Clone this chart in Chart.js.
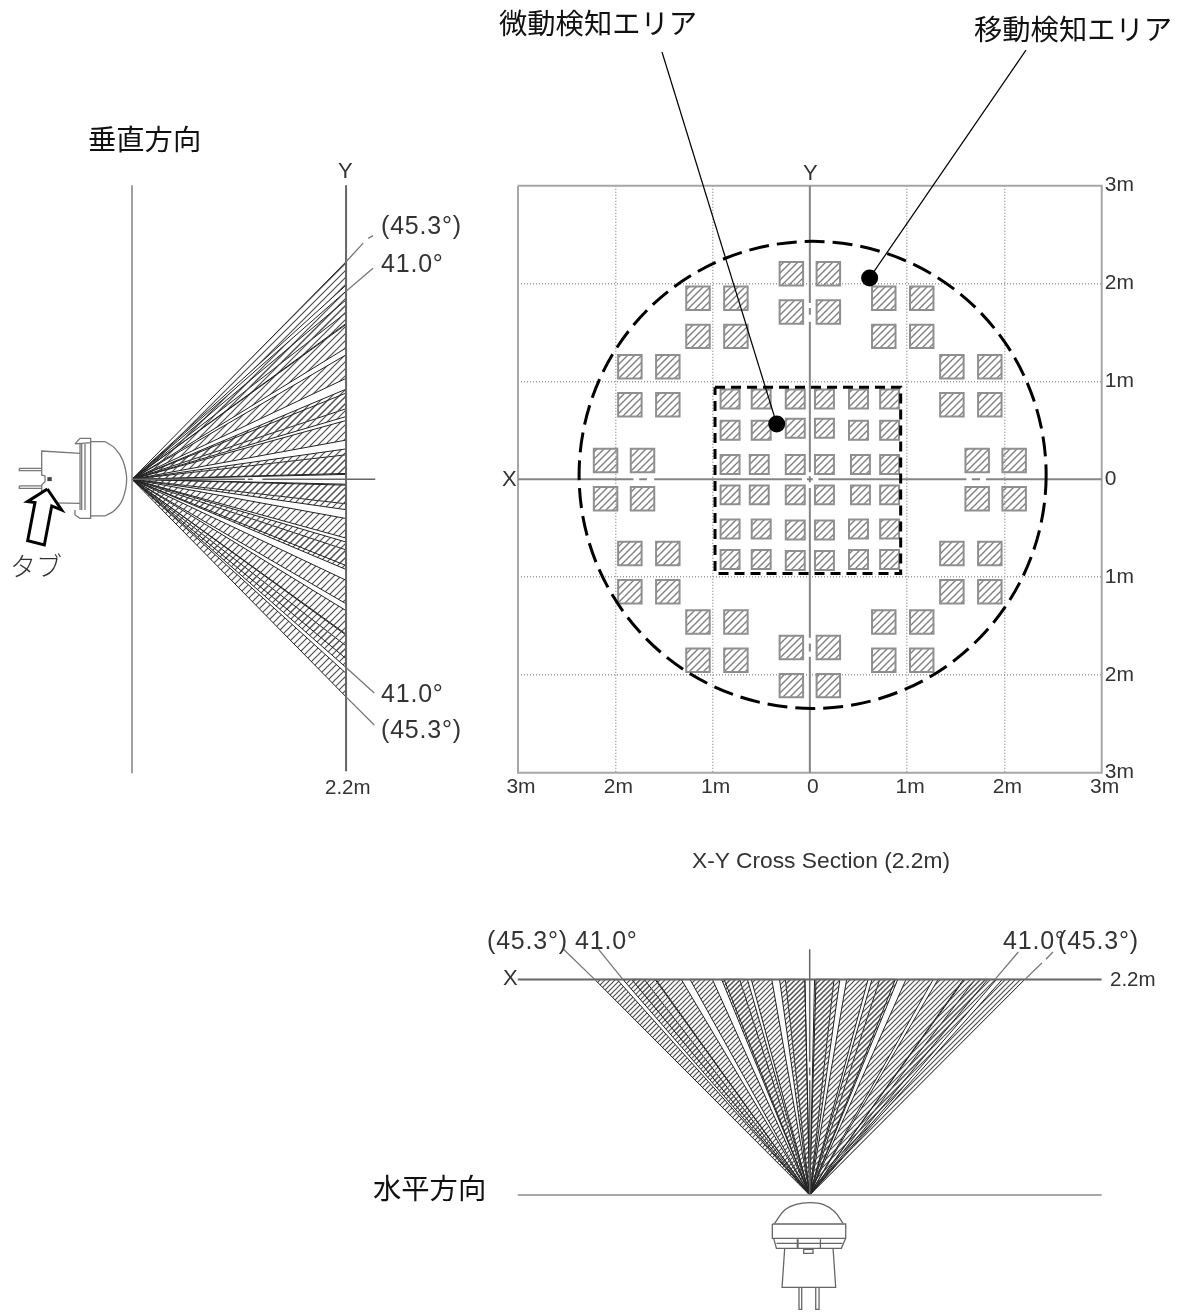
<!DOCTYPE html>
<html lang="ja">
<head>
<meta charset="utf-8">
<title>検知エリア</title>
<script src="https://cdn.jsdelivr.net/npm/chart.js@4"></script>
<style>
  html, body { margin: 0; background: #fff; }
  #page { position: relative; width: 1179px; height: 1312px; overflow: hidden; }
  canvas { position: absolute; }
  #planChart { left: 480px; top: 160px; }
  #pageChart { left: 0; top: 0; }
  .t { position: absolute; transform: translateY(-50%); white-space: nowrap; line-height: 1; }
  .jp { font-family: "Noto Sans CJK JP", sans-serif; font-size: 28.3px; color: #111; }
  .en { font-family: "Liberation Sans", Arial, sans-serif; font-size: 20.5px; color: #333; }
  .deg { font-size: 25px; letter-spacing: .8px; }
</style>
</head>
<body>
<div id="page">
  <canvas id="planChart" width="680" height="660"></canvas>
  <canvas id="pageChart" width="1179" height="1312"></canvas>

  <div class="t jp" style="left:499px;top:22px">微動検知エリア</div>
  <div class="t jp" style="left:974px;top:28px">移動検知エリア</div>
  <div class="t jp" style="left:88px;top:138px">垂直方向</div>
  <div class="t jp" style="left:373px;top:1187px">水平方向</div>
  <div class="t jp" style="left:10px;top:565px;font-size:26px;font-weight:300;color:#333">タブ</div>

  <div class="t en" style="left:338px;top:171px;font-size:22px">Y</div>
  <div class="t en" style="left:803px;top:173px;font-size:22px">Y</div>
  <div class="t en" style="left:502px;top:479px;font-size:22px">X</div>
  <div class="t en" style="left:503px;top:978px;font-size:22px">X</div>
  <div class="t en" style="left:325px;top:787px">2.2m</div>
  <div class="t en" style="left:692px;top:860px;font-size:22.8px">X-Y Cross Section (2.2m)</div>
  <div class="t en" style="left:1110px;top:979px">2.2m</div>

  <div class="t en deg" style="left:381px;top:225px">(45.3°)</div>
  <div class="t en deg" style="left:381px;top:263px">41.0°</div>
  <div class="t en deg" style="left:381px;top:693px">41.0°</div>
  <div class="t en deg" style="left:381px;top:729px">(45.3°)</div>
  <div class="t en deg" style="left:487px;top:940px">(45.3°)</div>
  <div class="t en deg" style="left:575px;top:940px">41.0°</div>
  <div class="t en deg" style="left:1003px;top:940px">41.0°</div>
  <div class="t en deg" style="left:1058px;top:940px">(45.3°)</div>
</div>

<script>
// plan axes (metres)
const xTickValues = [-3, -2, -1, 0, 1, 2, 3];
const xTickLabels = ['3m', '2m', '1m', '0', '1m', '2m', '3m'];
const yTickValues = [3, 2, 1, 0, -1, -2, -3];
const yTickLabels = ['3m', '2m', '1m', '0', '1m', '2m', '3m'];

// moving detection cells, centre of each square (metres)
const outerCellX = [
  -0.19, 0.19, -0.19, 0.19,
  -1.15, -0.76, 0.76, 1.15, -1.15, -0.76, 0.76, 1.15,
  -1.85, -1.46, 1.46, 1.85, -1.85, -1.46, 1.46, 1.85,
  -2.10, -1.72, 1.72, 2.10, -2.10, -1.72, 1.72, 2.10,
  -1.85, -1.46, 1.46, 1.85, -1.85, -1.46, 1.46, 1.85,
  -1.15, -0.76, 0.76, 1.15, -1.15, -0.76, 0.76, 1.15,
  -0.19, 0.19, -0.19, 0.19
];
const outerCellY = [
  2.10, 2.10, 1.71, 1.71,
  1.85, 1.85, 1.85, 1.85, 1.46, 1.46, 1.46, 1.46,
  1.15, 1.15, 1.15, 1.15, 0.76, 0.76, 0.76, 0.76,
  0.19, 0.19, 0.19, 0.19, -0.20, -0.20, -0.20, -0.20,
  -0.76, -0.76, -0.76, -0.76, -1.15, -1.15, -1.15, -1.15,
  -1.46, -1.46, -1.46, -1.46, -1.85, -1.85, -1.85, -1.85,
  -1.72, -1.72, -2.11, -2.11
];

// micro-motion detection cells
const innerCellX = [
  -0.82, -0.50, -0.15, 0.15, 0.50, 0.82,
  -0.82, -0.50, -0.15, 0.15, 0.50, 0.82,
  -0.82, -0.52, -0.15, 0.15, 0.52, 0.82,
  -0.82, -0.52, -0.15, 0.15, 0.52, 0.82,
  -0.82, -0.50, -0.15, 0.15, 0.50, 0.82,
  -0.82, -0.50, -0.15, 0.15, 0.50, 0.82
];
const innerCellY = [
  0.82, 0.82, 0.82, 0.82, 0.82, 0.82,
  0.50, 0.50, 0.52, 0.52, 0.50, 0.50,
  0.15, 0.15, 0.15, 0.15, 0.15, 0.15,
  -0.16, -0.16, -0.16, -0.16, -0.16, -0.16,
  -0.51, -0.51, -0.52, -0.52, -0.51, -0.51,
  -0.82, -0.82, -0.83, -0.83, -0.82, -0.82
];

// detection boundaries
const ringCentreX = [0.03];
const ringCentreY = [0.045];
const ringRadius = 2.40;
const microBoxX = [-0.973, 0.935, 0.935, -0.973, -0.973];
const microBoxY = [0.94, 0.94, -0.96, -0.96, 0.94];

// plan frame and centre lines, null = break in the line
const frameX = [-3, 3, 3, -3, -3];
const frameY = [3, 3, -3, -3, 3];
const planAxisXx = [-3, -1.813, null, -1.754, -1.675, null, -1.60, -0.082, null, -0.03, 0.03, null, 0.088, 1.609, null, 1.665, 1.75, null, 1.811, 3];
const planAxisXy = [0, 0, null, 0, 0, null, 0, 0, null, 0, 0, null, 0, 0, null, 0, 0, null, 0, 0];
const planAxisYx = [0, 0, null, 0, 0, null, 0, 0, null, 0, 0, null, 0, 0, null, 0, 0, null, 0, 0];
const planAxisYy = [3, 1.80, null, 1.75, 1.68, null, 1.61, 0.07, null, 0.03, -0.03, null, -0.09, -1.62, null, -1.68, -1.76, null, -1.816, -3];

// leader lines of the two area labels
const leaderMicroX = [-1.518, -0.339];
const leaderMicroY = [4.36, 0.564];
const leaderMoveX = [2.223, 0.616];
const leaderMoveY = [4.38, 2.055];

// fan sectors on the 2.2m plane: each one runs from-to (metres)
const sideBandFrom = [0.06, 0.05, 0.40, 0.64, 0.72, 1.03, 1.34, 1.59, 1.70, 1.98, -0.06, -0.05, -0.40, -0.64, -0.72, -1.03, -1.34, -1.59, -1.70, -1.98];
const sideBandTo = [0.31, 0.25, 0.60, 0.88, 0.92, 1.27, 1.58, 1.83, 1.92, 2.22, -0.31, -0.25, -0.60, -0.88, -0.92, -1.27, -1.58, -1.83, -1.92, -2.22];
const topBandFrom = [0.065, 0.05, 0.38, 0.64, 0.72, 0.99, 1.32, 1.59, 1.70, 1.98, -0.05, -0.05, -0.39, -0.64, -0.72, -1.00, -1.32, -1.59, -1.70, -1.98];
const topBandTo = [0.31, 0.25, 0.60, 0.88, 0.905, 1.27, 1.58, 1.83, 1.92, 2.21, -0.31, -0.25, -0.60, -0.88, -0.905, -1.23, -1.58, -1.83, -1.92, -2.21];
const targetDistance = 2.2;

// vertical view lines
const sideWallX = [0, 0];
const sideWallY = [3, -3];
const sideTargetX = [2.2, 2.2];
const sideTargetY = [3, -2.98];
const sideAxisX = [0, 1.16, null, 1.19, 1.24, null, 1.34, 2.5];
const sideAxisY = [0, 0, null, 0, 0, null, 0, 0];
const sideLeaderX = [2.2, 2.376, null, 2.428, 2.477, null, 2.2, 2.477, null, 2.2, 2.49, null, 2.2, 2.49];
const sideLeaderY = [2.22, 2.41, null, 2.459, 2.486, null, 1.92, 2.153, null, -1.92, -2.18, null, -2.22, -2.507];

// horizontal view lines
const topXaxisX = [-3, 3];
const topXaxisY = [2.2, 2.2];
const topBaseX = [-3, 3];
const topBaseY = [0, 0];
const topCentreX = [0, 0, null, 0, 0, null, 0, 0];
const topCentreY = [2.507, 1.36, null, 1.30, 1.22, null, 1.17, 0];
const topLeaderX = [-2.53, -2.21, null, -2.17, -1.92, null, 2.144, 1.905, null, 2.213, 2.386, null, 2.428, 2.50];
const topLeaderY = [2.507, 2.2, null, 2.507, 2.2, null, 2.48, 2.2, null, 2.2, 2.367, null, 2.406, 2.48];

// sensor seen from the side
const sideDomeX = [-0.274, -0.175, -0.096, -0.055, -0.096, -0.175, -0.274];
const sideDomeY = [0.384, 0.316, 0.197, 0, -0.204, -0.313, -0.374];
const sideBodyX = [
  -0.274, -0.425, -0.425, null, -0.425, -0.274, null,
  -0.483, -0.483, null, -0.517, -0.517, null, -0.534, -0.534, null,
  -0.586, -0.534, -0.425, -0.425, -0.586, null, -0.586, -0.586, -0.534, -0.425, -0.425, null,
  -0.534, -0.928, -0.928, -0.894, -0.894, -0.928, -0.928, -0.534, null,
  -1.158, -0.928, -0.928, -1.158, -1.158, null, -1.158, -0.928, -0.928, -1.158, -1.158
];
const sideBodyY = [
  0.384, 0.384, -0.374, null, -0.374, -0.374, null,
  0.361, -0.313, null, 0.361, -0.313, null, 0.361, -0.313, null,
  0.361, 0.418, 0.418, 0.374, 0.361, null, -0.313, -0.364, -0.398, -0.398, -0.347, null,
  0.265, 0.289, 0.044, 0.034, -0.024, -0.058, -0.238, -0.245, null,
  0.112, 0.112, 0.088, 0.088, 0.112, null, -0.068, -0.068, -0.092, -0.092, -0.068
];
const sideTabX = [-0.870, -0.825];
const sideTabY = [0.002, 0.002];

// arrow pointing at the tab
const arrowX = [-0.870, -0.723, -0.825, -0.901, -1.072, -0.997, -1.075, -0.870];
const arrowY = [-0.099, -0.313, -0.272, -0.670, -0.626, -0.238, -0.228, -0.099];

// sensor seen from above
const topDomeX = [-0.360, -0.257, -0.137, 0, 0.137, 0.257, 0.342];
const topDomeY = [-0.289, -0.153, -0.095, -0.078, -0.095, -0.170, -0.289];
const topBodyX = [
  -0.384, 0.370, 0.370, -0.384, -0.384, null,
  -0.370, -0.342, 0.325, 0.370, null, -0.342, 0.336, null,
  -0.120, -0.120, null, -0.127, -0.127, null, 0.110, 0.110, null,
  -0.062, 0.034, 0.034, -0.062, -0.062, null,
  -0.257, -0.284, 0.267, 0.240, null,
  -0.110, -0.110, -0.082, -0.082, null, 0.062, 0.062, 0.096, 0.096
];
const topBodyY = [
  -0.296, -0.296, -0.442, -0.442, -0.296, null,
  -0.442, -0.544, -0.544, -0.442, null, -0.493, -0.493, null,
  -0.452, -0.544, null, -0.452, -0.544, null, -0.452, -0.544, null,
  -0.554, -0.554, -0.595, -0.595, -0.554, null,
  -0.544, -0.942, -0.942, -0.544, null,
  -0.942, -1.167, -1.167, -0.942, null, -0.942, -1.167, -1.167, -0.942
];

// page geometry of the three drawings
const PX_PER_M_X = 97.3;
const PX_PER_M_Y = 98;
const PAGE_W = 1179;
const PAGE_H = 1312;
const PLAN_ORIGIN_X = 809.7;
const PLAN_ORIGIN_Y = 479.3;
const SIDE_ORIGIN_X = 132;
const TOP_ORIGIN_Y = 1195;

const zip = (xs, ys) => xs.map((x, i) => ({ x: x, y: ys[i] }));

// diagonal hatch tile, used as a fill pattern
function hatch(size, colour, width) {
  const tile = document.createElement('canvas');
  tile.width = size;
  tile.height = size;
  const c = tile.getContext('2d');
  c.strokeStyle = colour;
  c.lineWidth = width;
  c.beginPath();
  c.moveTo(-1, size + 1); c.lineTo(size + 1, -1);
  c.moveTo(-1, 1); c.lineTo(1, -1);
  c.moveTo(size - 1, size + 1); c.lineTo(size + 1, size - 1);
  c.stroke();
  return document.createElement('canvas').getContext('2d').createPattern(tile, 'repeat');
}

function polyline(xs, ys, xAxisID, yAxisID, colour, width, extra) {
  return Object.assign({
    data: zip(xs, ys), xAxisID, yAxisID, showLine: true, pointRadius: 0,
    borderColor: colour, borderWidth: width, tension: 0, spanGaps: false, clip: false
  }, extra || {});
}

// horizontal scale spanning the whole canvas
function xScale(origin) {
  return { type: 'linear', display: false, min: -origin / PX_PER_M_X, max: (PAGE_W - origin) / PX_PER_M_X };
}
function yScale(origin) {
  return { type: 'linear', display: false, min: (origin - PAGE_H) / PX_PER_M_Y, max: origin / PX_PER_M_Y };
}

const tickFont = { family: '"Liberation Sans", Arial, sans-serif', size: 21 };
const cellHatch = hatch(7, '#808080', 1.4);
const dottedGrid = {
  drawTicks: false,
  lineWidth: 1.5,
  color: c => (c.tick && [1, 2].includes(Math.abs(c.tick.value)) ? '#9c9c9c' : 'transparent')
};

new Chart(document.getElementById('planChart'), {
  type: 'scatter',
  data: {
    datasets: [
      {
        data: zip(innerCellX, innerCellY), pointStyle: 'rect', pointRadius: 13.4,
        pointBackgroundColor: cellHatch, pointBorderColor: '#8f8f8f', pointBorderWidth: 2
      },
      {
        data: zip(outerCellX, outerCellY), pointStyle: 'rect', pointRadius: 16.6,
        pointBackgroundColor: cellHatch, pointBorderColor: '#8f8f8f', pointBorderWidth: 2
      },
      polyline(planAxisXx, planAxisXy, 'x', 'y', '#858585', 2),
      polyline(planAxisYx, planAxisYy, 'x', 'y', '#858585', 2),
      polyline(frameX, frameY, 'x', 'y', '#a6a6a6', 2)
    ]
  },
  options: {
    responsive: false,
    animation: false,
    events: [],
    layout: { autoPadding: false, padding: { left: 38, top: 25.7, right: 0, bottom: 0 } },
    plugins: { legend: { display: false }, tooltip: { enabled: false } },
    scales: {
      x: {
        type: 'linear', position: 'bottom', min: -3, max: 3,
        afterBuildTicks: s => { s.ticks = xTickValues.map(v => ({ value: v })); },
        afterFit: s => { s.height = 47.3; },
        grid: dottedGrid,
        border: { display: false, dash: [1, 2] },
        ticks: {
          font: tickFont, color: '#333', padding: 2, labelOffset: 3, maxRotation: 0, autoSkip: false,
          callback: (v, i) => xTickLabels[i]
        }
      },
      y: {
        type: 'linear', position: 'right', min: -3, max: 3,
        afterBuildTicks: s => { s.ticks = yTickValues.map(v => ({ value: v })); },
        afterFit: s => { s.width = 58.3; },
        grid: dottedGrid,
        border: { display: false, dash: [1, 2] },
        ticks: {
          font: tickFont, color: '#333', padding: 3, autoSkip: false,
          callback: (v, i) => yTickLabels[i]
        }
      }
    }
  }
});

// fans, sensors, boundaries and leader lines sit on one page-wide chart
const sideHatch = hatch(7, '#505050', 1.2);
const topHatch = hatch(5, '#505050', 1.2);

const sideFan = sideBandFrom.map((from, i) => polyline(
  [0, targetDistance, targetDistance, 0], [0, from, sideBandTo[i], 0],
  'xSide', 'yPlan', '#222', 1, { fill: 'shape', backgroundColor: sideHatch }
));
const topFan = topBandFrom.map((from, i) => polyline(
  [0, from, topBandTo[i], 0], [0, targetDistance, targetDistance, 0],
  'xPlan', 'yTop', '#222', 1, { fill: 'shape', backgroundColor: topHatch }
));

// canvas point elements have no dash option, so set it around the ring dataset
const ringDash = {
  id: 'ringDash',
  beforeDatasetDraw(chart, args) {
    if (chart.data.datasets[args.index].dashedRing) chart.ctx.setLineDash([20, 8]);
  },
  afterDatasetDraw(chart, args) {
    if (chart.data.datasets[args.index].dashedRing) chart.ctx.setLineDash([]);
  }
};

new Chart(document.getElementById('pageChart'), {
  type: 'scatter',
  plugins: [ringDash],
  data: {
    datasets: [
      // first listed = drawn last
      {
        data: zip([leaderMicroX[1], leaderMoveX[1]], [leaderMicroY[1], leaderMoveY[1]]),
        xAxisID: 'xPlan', yAxisID: 'yPlan', pointRadius: 8.5, pointBackgroundColor: '#000', pointBorderWidth: 0
      },
      polyline(leaderMicroX, leaderMicroY, 'xPlan', 'yPlan', '#000', 1.2),
      polyline(leaderMoveX, leaderMoveY, 'xPlan', 'yPlan', '#000', 1.2),
      {
        data: zip(ringCentreX, ringCentreY), xAxisID: 'xPlan', yAxisID: 'yPlan', dashedRing: true,
        pointRadius: ringRadius * PX_PER_M_X, pointBackgroundColor: 'transparent',
        pointBorderColor: '#000', pointBorderWidth: 3, clip: false
      },
      polyline(microBoxX, microBoxY, 'xPlan', 'yPlan', '#000', 3, { borderDash: [10, 6] }),

      polyline(arrowX, arrowY, 'xSide', 'yPlan', '#000', 3, { fill: 'shape', backgroundColor: '#fff' }),
      polyline(sideTabX, sideTabY, 'xSide', 'yPlan', '#444', 4),
      polyline(sideBodyX, sideBodyY, 'xSide', 'yPlan', '#777', 1.3),
      polyline(sideDomeX, sideDomeY, 'xSide', 'yPlan', '#777', 1.3, { tension: 0.4 }),
      polyline(topBodyX, topBodyY, 'xPlan', 'yTop', '#666', 1.3),
      polyline(topDomeX, topDomeY, 'xPlan', 'yTop', '#666', 1.3, { tension: 0.4 }),

      polyline(sideLeaderX, sideLeaderY, 'xSide', 'yPlan', '#777', 1.3),
      polyline(sideAxisX, sideAxisY, 'xSide', 'yPlan', '#666', 1.5),
      polyline(sideTargetX, sideTargetY, 'xSide', 'yPlan', '#666', 2),
      polyline(sideWallX, sideWallY, 'xSide', 'yPlan', '#a0a0a0', 2),
      polyline(topLeaderX, topLeaderY, 'xPlan', 'yTop', '#777', 1.3),
      polyline(topCentreX, topCentreY, 'xPlan', 'yTop', '#666', 1.5),
      polyline(topXaxisX, topXaxisY, 'xPlan', 'yTop', '#666', 2),
      polyline(topBaseX, topBaseY, 'xPlan', 'yTop', '#a8a8a8', 2),

      ...sideFan,
      ...topFan
    ]
  },
  options: {
    responsive: false,
    animation: false,
    events: [],
    layout: { autoPadding: false, padding: 0 },
    plugins: { legend: { display: false }, tooltip: { enabled: false } },
    scales: {
      xPlan: xScale(PLAN_ORIGIN_X),
      xSide: xScale(SIDE_ORIGIN_X),
      yPlan: yScale(PLAN_ORIGIN_Y),
      yTop: yScale(TOP_ORIGIN_Y)
    }
  }
});
</script>
</body>
</html>
